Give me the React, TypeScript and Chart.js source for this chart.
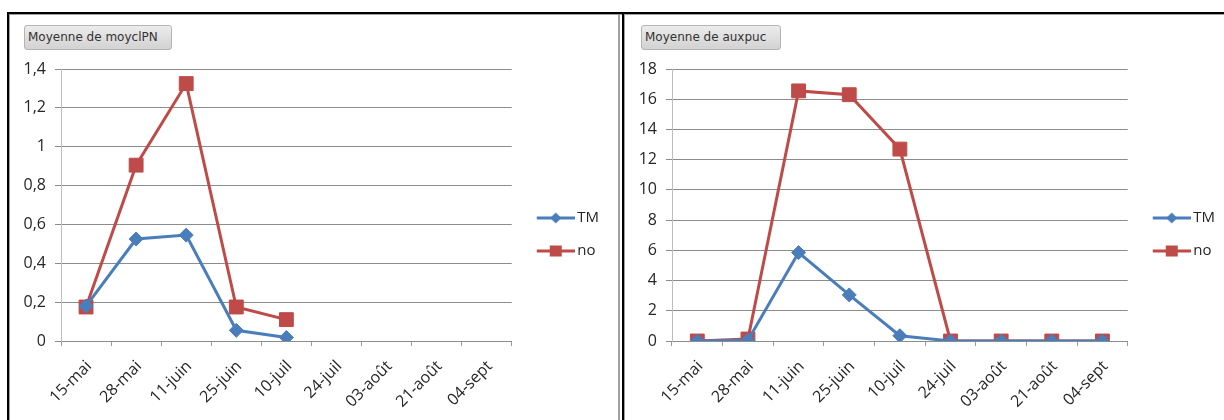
import React, { useEffect, useRef } from 'react';
import { Chart, registerables } from 'chart.js';

Chart.register(...registerables);

// Sampling dates shared by both panels
const dates = ['15-mai', '28-mai', '11-juin', '25-juin', '10-juil', '24-juil', '03-août', '21-août', '04-sept'];
const seriesNames = ['TM', 'no'];

// Moyenne de moyclPN
const moyclpnTM = [0.18, 0.525, 0.545, 0.055, 0.018, null, null, null, null];
const moyclpnNo = [0.175, 0.905, 1.325, 0.175, 0.11, null, null, null, null];

// Moyenne de auxpuc
const auxpucTM = [0, 0.05, 5.85, 3.05, 0.35, 0, 0, 0, 0];
const auxpucNo = [0, 0.13, 16.55, 16.3, 12.7, 0, 0, 0, 0];

const BLUE = '#4A7EBB';
const RED = '#BE4B48';
const TEXT = '#262626';
const FONT = "'Open Sans', 'Liberation Sans', sans-serif";
const TICK_SIZE = 16;
const LEGEND_SIZE = 15;

function legendSwatch(color: string, shape: 'diamond' | 'square'): HTMLCanvasElement {
  const c = document.createElement('canvas');
  c.width = 50;
  c.height = 16;
  const g = c.getContext('2d') as CanvasRenderingContext2D;
  g.strokeStyle = color;
  g.lineWidth = 3;
  g.beginPath();
  g.moveTo(12, 8);
  g.lineTo(50, 8);
  g.stroke();
  g.fillStyle = color;
  const cx = 31;
  const cy = 8;
  if (shape === 'diamond') {
    g.beginPath();
    g.moveTo(cx - 5.5, cy);
    g.lineTo(cx, cy - 5.5);
    g.lineTo(cx + 5.5, cy);
    g.lineTo(cx, cy + 5.5);
    g.closePath();
    g.fill();
  } else {
    g.fillRect(cx - 6, cy - 5.5, 12, 11);
  }
  return c;
}

const frFormat = (v: number | string) => String(Math.round(Number(v) * 10) / 10).replace('.', ',');

interface PanelProps {
  left: number;
  top: number;
  width: number;
  height: number;
  yWidth: number;
  yMax: number;
  yStep: number;
  tm: (number | null)[];
  no: (number | null)[];
}

function LineChart({ left, top, width, height, yWidth, yMax, yStep, tm, no }: PanelProps) {
  const ref = useRef<HTMLCanvasElement | null>(null);

  useEffect(() => {
    if (!ref.current) return;
    const swatches = [legendSwatch(BLUE, 'diamond'), legendSwatch(RED, 'square')];
    const chart = new Chart(ref.current, {
      type: 'line',
      data: {
        labels: dates,
        datasets: [
          {
            label: seriesNames[0],
            data: tm,
            borderColor: BLUE,
            backgroundColor: BLUE,
            borderWidth: 3,
            pointStyle: 'rectRot',
            pointRadius: 7,
            pointBorderWidth: 1,
            pointBorderColor: BLUE,
            pointBackgroundColor: BLUE,
            tension: 0,
            spanGaps: false,
          },
          {
            label: seriesNames[1],
            data: no,
            borderColor: RED,
            backgroundColor: RED,
            borderWidth: 3,
            pointStyle: 'rect',
            pointRadius: 9.8,
            pointBorderWidth: 1,
            pointBorderColor: RED,
            pointBackgroundColor: RED,
            tension: 0,
            spanGaps: false,
          },
        ],
      },
      options: {
        responsive: false,
        animation: false,
        devicePixelRatio: 1,
        layout: { padding: { top: 13, bottom: 20, left: 0, right: 0 } },
        plugins: {
          tooltip: { enabled: false },
          legend: {
            position: 'right',
            labels: {
              usePointStyle: true,
              pointStyleWidth: 40,
              padding: 18,
              color: TEXT,
              font: { family: FONT, size: LEGEND_SIZE },
              generateLabels: (c: Chart) =>
                c.data.datasets.map((ds, i) => ({
                  text: String(ds.label),
                  pointStyle: swatches[i],
                  fillStyle: 'rgba(0,0,0,0)',
                  strokeStyle: 'rgba(0,0,0,0)',
                  lineWidth: 0,
                  hidden: false,
                  datasetIndex: i,
                  fontColor: TEXT,
                })),
            },
          },
        },
        scales: {
          x: {
            offset: true,
            grid: {
              offset: true,
              drawOnChartArea: false,
              drawTicks: true,
              tickLength: 5,
              color: '#9a9a9a',
            },
            border: { display: true, color: '#8c8c8c', width: 1 },
            ticks: {
              autoSkip: false,
              minRotation: 45,
              maxRotation: 45,
              padding: 11,
              labelOffset: 3,
              color: TEXT,
              font: { family: FONT, size: TICK_SIZE },
            },
            afterFit: (s: any) => {
              s.height = 59;
              s.paddingLeft = 0;
              s.paddingRight = 0;
              // let the slanted date labels run below the axis box
              s._computeLabelArea = () => undefined;
            },
          },
          y: {
            min: 0,
            max: yMax,
            ticks: {
              stepSize: yStep,
              padding: 9,
              color: TEXT,
              font: { family: FONT, size: TICK_SIZE },
              callback: (v: number | string) => frFormat(v),
            },
            grid: { color: '#8c8c8c', tickLength: 6, lineWidth: 1 },
            border: { display: true, color: '#bdbdbd', width: 1 },
            afterFit: (s: any) => {
              s.width = yWidth;
              s.paddingTop = 0;
              s.paddingBottom = 0;
            },
          },
        },
      },
    });
    return () => chart.destroy();
  }, [yWidth, yMax, yStep, tm, no]);

  return (
    <canvas
      ref={ref}
      width={width}
      height={height}
      style={{ position: 'absolute', left, top, width, height }}
    />
  );
}

function FieldButton({ left, width, text }: { left: number; width: number; text: string }) {
  return (
    <div
      style={{
        position: 'absolute',
        left,
        top: 25,
        width,
        height: 25,
        boxSizing: 'border-box',
        border: '1px solid #b4b4b4',
        borderRadius: 3,
        background: 'linear-gradient(#ececec, #d2d2d2)',
        color: '#333',
        font: "12px 'DejaVu Sans', sans-serif",
        lineHeight: '23px',
        paddingLeft: 3,
        whiteSpace: 'nowrap',
      }}
    >
      {text}
    </div>
  );
}

const line = (l: number, t: number, w: number, h: number, c: string) => (
  <div style={{ position: 'absolute', left: l, top: t, width: w, height: h, background: c }} />
);

export default function App() {
  return (
    <div
      style={{
        position: 'absolute',
        left: 0,
        top: 0,
        width: 1224,
        height: 420,
        background: '#fff',
        overflow: 'hidden',
      }}
    >
      {/* panel frames */}
      {line(7, 12, 1217, 2, '#000')}
      {line(9, 14, 1215, 1, '#a0a0a0')}
      {line(7, 12, 2, 408, '#000')}
      {line(9, 14, 1, 406, '#a0a0a0')}
      {line(618, 14, 2, 406, '#a0a0a0')}
      {line(622, 12, 2, 408, '#000')}
      {line(624, 14, 1, 406, '#a0a0a0')}

      <FieldButton left={24} width={148} text="Moyenne de moyclPN" />
      <LineChart
        left={14}
        top={56}
        width={595}
        height={364}
        yWidth={47}
        yMax={1.4}
        yStep={0.2}
        tm={moyclpnTM}
        no={moyclpnNo}
      />

      <FieldButton left={641} width={140} text="Moyenne de auxpuc" />
      <LineChart
        left={630}
        top={56}
        width={595}
        height={364}
        yWidth={42}
        yMax={18}
        yStep={2}
        tm={auxpucTM}
        no={auxpucNo}
      />
    </div>
  );
}
